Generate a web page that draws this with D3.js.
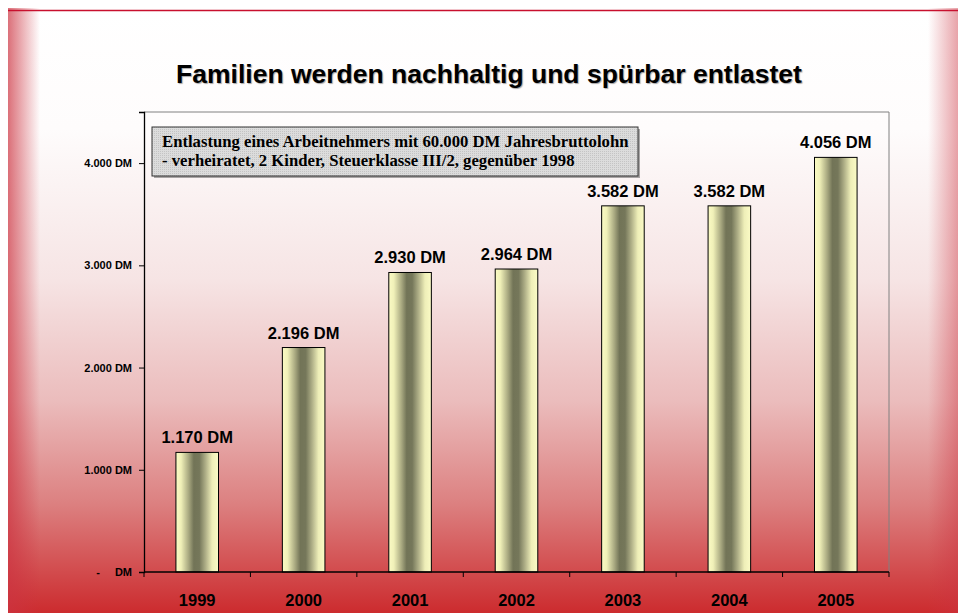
<!DOCTYPE html>
<html>
<head>
<meta charset="utf-8">
<script src="https://cdn.jsdelivr.net/npm/d3@7"></script>
<style>
  body { margin: 0; background: #fff; }
  svg { display: block; }
</style>
</head>
<body>
<svg id="chart" width="958" height="613"></svg>
<script>
const title = "Familien werden nachhaltig und spürbar entlastet";
const noteLines = [
  "Entlastung eines Arbeitnehmers mit 60.000 DM Jahresbruttolohn",
  "- verheiratet, 2 Kinder, Steuerklasse III/2, gegenüber 1998"
];
const years = ["1999", "2000", "2001", "2002", "2003", "2004", "2005"];
const relief = [1170, 2196, 2930, 2964, 3582, 3582, 4056];
const yTicks = [0, 1000, 2000, 3000, 4000];

const width = 958;
const height = 613;
const margin = { top: 112, right: 69, bottom: 41, left: 144 };

const svg = d3.select("#chart");
const defs = svg.append("defs");

// slide background
const bg = defs.append("linearGradient").attr("id", "bg")
  .attr("x1", 0).attr("y1", 0).attr("x2", 0).attr("y2", 1);
bg.append("stop").attr("offset", "0%").attr("stop-color", "#ffffff");
bg.append("stop").attr("offset", "20%").attr("stop-color", "#fefcfc");
bg.append("stop").attr("offset", "45%").attr("stop-color", "#f6e4e4");
bg.append("stop").attr("offset", "65%").attr("stop-color", "#ebbcbc");
bg.append("stop").attr("offset", "82%").attr("stop-color", "#dc8080");
bg.append("stop").attr("offset", "100%").attr("stop-color", "#cc2b2e");

const leftEdge = defs.append("linearGradient").attr("id", "leftEdge");
leftEdge.append("stop").attr("offset", "0%").attr("stop-color", "#cc3340").attr("stop-opacity", 0.7);
leftEdge.append("stop").attr("offset", "100%").attr("stop-color", "#cc3340").attr("stop-opacity", 0);

const rightEdge = defs.append("linearGradient").attr("id", "rightEdge");
rightEdge.append("stop").attr("offset", "0%").attr("stop-color", "#cc3340").attr("stop-opacity", 0);
rightEdge.append("stop").attr("offset", "100%").attr("stop-color", "#cc3340").attr("stop-opacity", 0.45);

// bar shading
const barGrad = defs.append("linearGradient").attr("id", "barGrad");
[["0%", "#fbfbc4"], ["12%", "#f0f0b8"], ["30%", "#a8a880"], ["42%", "#727457"],
 ["55%", "#75775a"], ["70%", "#b0b088"], ["85%", "#eeeeb8"], ["100%", "#fbfbc6"]]
  .forEach(([o, c]) => barGrad.append("stop").attr("offset", o).attr("stop-color", c));

const dots = defs.append("pattern").attr("id", "dots")
  .attr("width", 2).attr("height", 2).attr("patternUnits", "userSpaceOnUse");
dots.append("rect").attr("width", 2).attr("height", 2).attr("fill", "#dcdcdc");
dots.append("rect").attr("width", 1).attr("height", 1).attr("fill", "#c4c4c4");

svg.append("rect").attr("x", 8).attr("y", 8).attr("width", width - 8).attr("height", height - 8)
  .attr("fill", "url(#bg)");
svg.append("rect").attr("x", 8).attr("y", 8).attr("width", 32).attr("height", height - 8)
  .attr("fill", "url(#leftEdge)");
svg.append("rect").attr("x", 928).attr("y", 8).attr("width", 30).attr("height", height - 8)
  .attr("fill", "url(#rightEdge)");
svg.append("line").attr("x1", 8).attr("x2", width).attr("y1", 10.5).attr("y2", 10.5)
  .attr("stroke", "#c8102e").attr("stroke-width", 1.5);

// title
svg.append("text")
  .attr("x", 489).attr("y", 83)
  .attr("text-anchor", "middle")
  .attr("font-family", "Liberation Sans, Arial, sans-serif")
  .attr("font-weight", "bold")
  .attr("font-size", 26.5)
  .attr("fill", "#000")
  .style("text-shadow", "1px 1px 1px rgba(0,0,0,0.35)")
  .text(title);

const x = d3.scaleBand()
  .domain(years)
  .range([margin.left, width - margin.right])
  .paddingInner(0.6)
  .paddingOuter(0.3);

const y = d3.scaleLinear()
  .domain([0, 4500])
  .range([height - margin.bottom, margin.top]);

// plot frame (top and right in grey)
svg.append("path")
  .attr("d", `M${margin.left},${margin.top}H${width - margin.right}V${height - margin.bottom}`)
  .attr("fill", "none")
  .attr("stroke", "#808080")
  .attr("stroke-width", 1);

// bars
svg.append("g").selectAll("rect")
  .data(relief)
  .join("rect")
  .attr("x", (d, i) => x(years[i]))
  .attr("y", d => y(d))
  .attr("width", x.bandwidth())
  .attr("height", d => y(0) - y(d))
  .attr("fill", "url(#barGrad)")
  .attr("stroke", "#000")
  .attr("stroke-width", 1);

const fmt = d => d3.format(",")(d).replace(/,/g, ".");

// value labels
svg.append("g").selectAll("text")
  .data(relief)
  .join("text")
  .attr("x", (d, i) => x(years[i]) + x.bandwidth() / 2)
  .attr("y", d => y(d) - 9)
  .attr("text-anchor", "middle")
  .attr("font-family", "Liberation Sans, Arial, sans-serif")
  .attr("font-weight", "bold")
  .attr("font-size", 16.5)
  .attr("fill", "#000")
  .text(d => fmt(d) + " DM");

// y axis
const yAxis = svg.append("g")
  .attr("transform", `translate(${margin.left},0)`)
  .call(d3.axisLeft(y).tickValues(yTicks).tickSize(5).tickPadding(7)
    .tickFormat(d => d === 0 ? "" : fmt(d) + " DM"));
yAxis.select(".domain").attr("stroke", "#000").attr("stroke-width", 1.3);
yAxis.selectAll(".tick line").attr("stroke", "#000");
yAxis.selectAll(".tick text")
  .attr("font-family", "Liberation Sans, Arial, sans-serif")
  .attr("font-weight", "bold")
  .attr("font-size", 11)
  .attr("fill", "#000");
// zero label "-   DM"
const zeroTick = yAxis.selectAll(".tick").filter(d => d === 0);
zeroTick.append("text").attr("x", -46).attr("dy", "0.32em").attr("fill", "#000")
  .attr("font-family", "Liberation Sans, Arial, sans-serif").attr("font-weight", "bold")
  .attr("font-size", 11).attr("text-anchor", "middle").text("-");
zeroTick.append("text").attr("x", -12).attr("dy", "0.32em").attr("fill", "#000")
  .attr("font-family", "Liberation Sans, Arial, sans-serif").attr("font-weight", "bold")
  .attr("font-size", 11).attr("text-anchor", "end").text("DM");

// x axis with category boundary ticks
const xAxis = svg.append("g")
  .attr("transform", `translate(0,${height - margin.bottom})`);
xAxis.append("line")
  .attr("x1", margin.left).attr("x2", width - margin.right)
  .attr("stroke", "#000").attr("stroke-width", 1.3);
const bandW = (width - margin.left - margin.right) / years.length;
xAxis.selectAll("line.sep")
  .data(d3.range(years.length + 1))
  .join("line")
  .attr("class", "sep")
  .attr("x1", i => margin.left + i * bandW)
  .attr("x2", i => margin.left + i * bandW)
  .attr("y1", 0).attr("y2", 5)
  .attr("stroke", "#000");
xAxis.selectAll("text")
  .data(years)
  .join("text")
  .attr("x", d => x(d) + x.bandwidth() / 2)
  .attr("y", 34)
  .attr("text-anchor", "middle")
  .attr("font-family", "Liberation Sans, Arial, sans-serif")
  .attr("font-weight", "bold")
  .attr("font-size", 16.5)
  .attr("fill", "#000")
  .text(d => d);

// note box
const note = svg.append("g").attr("transform", "translate(152,127)");
note.append("rect")
  .attr("x", 2).attr("y", 2).attr("width", 486).attr("height", 49)
  .attr("fill", "#555").attr("opacity", 0.5);
note.append("rect")
  .attr("width", 486).attr("height", 49)
  .attr("fill", "url(#dots)")
  .attr("stroke", "#333").attr("stroke-width", 1);
note.selectAll("text")
  .data(noteLines)
  .join("text")
  .attr("x", 10)
  .attr("y", (d, i) => 20 + i * 19)
  .attr("font-family", "Liberation Serif, Times New Roman, serif")
  .attr("font-weight", "bold")
  .attr("font-size", 16.7)
  .attr("fill", "#000")
  .text(d => d);
</script>
</body>
</html>
